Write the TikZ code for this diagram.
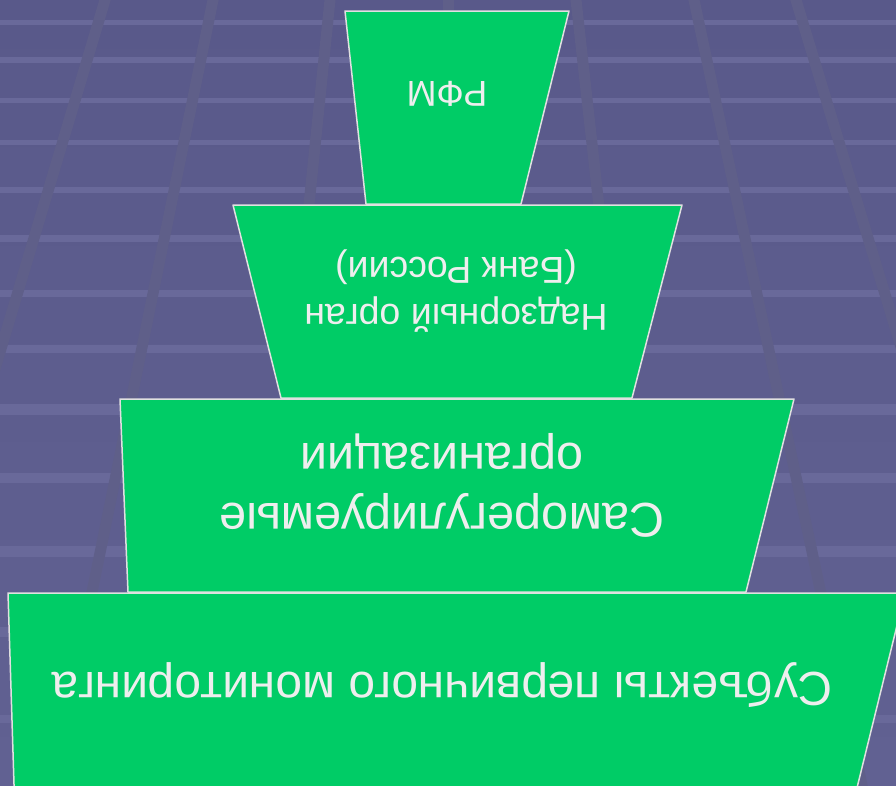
\documentclass[tikz,border=0pt]{standalone}
\usepackage{fontspec}
\setmainfont{Liberation Sans}
\usepackage{tikz}
\usetikzlibrary{calc}
\definecolor{bgtop}{HTML}{59598A}
\definecolor{bgbot}{HTML}{616192}
\definecolor{bandc}{HTML}{69699A}
\definecolor{raysc}{HTML}{5F5F89}
\definecolor{tiergreen}{HTML}{00CC66}
\definecolor{tiertext}{HTML}{EEEEEE}
\tikzset{
  tier/.style={fill=tiergreen,draw=black!12,line width=1.5pt},
  tierlabel/.style={text=tiertext,rotate=180,align=center,inner sep=0pt}
}
\begin{document}
\begin{tikzpicture}[line cap=round,line join=round,x=1pt,y=-1pt]
  \useasboundingbox (0,0) rectangle (896,785);
  \clip (0,0) rectangle (896,785);
  \shade [top color=bgtop,bottom color=bgbot] (0,0) rectangle (896,785);
  \foreach \y/\w in {22.5/5,60/6,100.5/5,142.5/5,190/6,238.5/7,293.5/7,349/8,409/11,478/10,551/11,632/10,719/8}
    \fill [bandc] (0,\y-\w/2) rectangle (896,\y+\w/2);
  \coordinate (vp) at (448,-1150);
  \foreach \x in {105,213,330,448,576,694,796}
    \draw [raysc,line width=11pt,line cap=butt] (vp) -- ($(vp)!1.75!(\x,0)$);
  \draw [tier] (345,11) -- (569,11) -- (521,204) -- (366,204) -- cycle;
  \draw [tier] (233,205) -- (682,205) -- (632,398) -- (281,398) -- cycle;
  \draw [tier] (120,399) -- (794,399) -- (746,592) -- (128,592) -- cycle;
  \draw [tier] (8,593) -- (905,593) -- (854,800) -- (14.5,800) -- cycle;
  \node [tierlabel,font=\fontsize{36}{43}\selectfont] (rfm) at (447,94) {РФМ};
  \node [tierlabel,font=\fontsize{37.5}{47}\selectfont] (nadzor) at (456,291) {Надзорный орган\\(Банк России)};
  \node [tierlabel,font=\fontsize{48.5}{60}\selectfont] (sro) at (442,485) {Саморегулируемые\\организации};
  \node [tierlabel,font=\fontsize{47.8}{58}\selectfont] (subj) at (442.5,685) {Субъекты первичного мониторинга};
\end{tikzpicture}
\end{document}
